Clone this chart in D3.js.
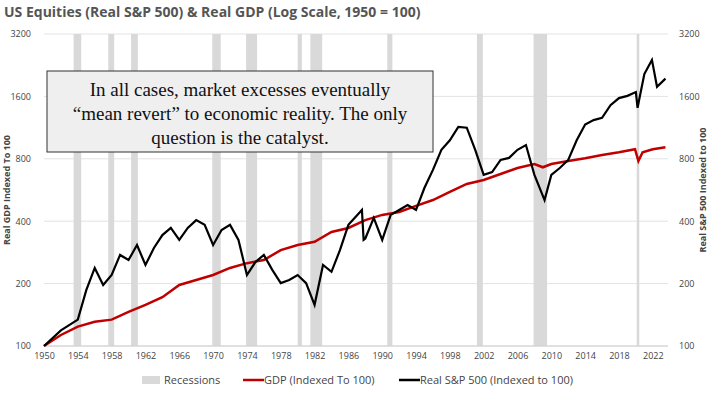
<!DOCTYPE html>
<html><head><meta charset="utf-8">
<script src="https://cdn.jsdelivr.net/npm/d3@7"></script>
<style>
body{margin:0;background:#fff;font-family:"Open Sans",sans-serif;}
.tick text{fill:#444;font-size:9px;font-family:"Liberation Sans Narrow","Open Sans",sans-serif;}
</style></head><body>
<svg id="chart" width="712" height="414"></svg>
<script>
const spYears = [1950,1952,1954,1955,1956,1957,1958,1959,1960,1961,1962,1963,1964,1965,1966,1967,1968,1969,1970,1971,1972,1973,1974,1975,1976,1977,1978,1979,1980,1981,1982,1983,1984,1985,1986,1987.6,1987.8,1988,1989,1990,1991,1992,1993,1994,1995,1996,1997,1998,1999,2000,2001,2002,2003,2004,2005,2006,2007,2008,2009.2,2010,2011,2012,2013,2014,2015,2016,2017,2018,2019,2020,2020.2,2021,2021.9,2022.5,2023.5];
const spValues = [100,119,134,186,238,197,220,275,260,307,246,297,343,371,325,371,405,384,307,363,384,325,220,254,275,233,201,208,220,201,158,246,228,290,384,453,325,330,415,325,429,453,479,453,580,707,884,983,1140,1130,884,669,690,790,808,884,932,669,506,669,722,790,983,1170,1230,1260,1450,1570,1610,1680,1410,2050,2400,1780,1950];
const gdpYears = [1950,1952,1954,1956,1958,1960,1962,1964,1966,1968,1970,1972,1974,1976,1978,1980,1982,1984,1986,1988,1990,1992,1994,1996,1998,2000,2002,2004,2006,2008,2009,2010,2012,2014,2016,2018,2019.9,2020.3,2020.8,2022,2023.5];
const gdpValues = [100,113,124,131,134,146,158,172,197,208,220,238,251,260,290,307,318,355,371,405,429,443,474,506,554,605,632,676,722,755,728,755,780,805,835,860,890,780,860,890,910];
const recessions = [[1953.5,1954.4],[1957.6,1958.3],[1960.3,1961.1],[1969.9,1970.9],[1973.9,1975.2],[1980.0,1980.5],[1981.5,1982.9],[1990.6,1991.2],[2001.2,2001.9],[2007.9,2009.5],[2020.1,2020.4]];
const yTicks = [100,200,400,800,1600,3200];
const xTicks = d3.range(1950,2023,4);

const svg = d3.select('#chart');
const x = d3.scaleLinear().domain([1950,2023.8]).range([44,668]);
const y = d3.scaleLog().base(2).domain([100,3200]).range([346,34]);

// Gridlines
svg.append('g').selectAll('line').data(yTicks).enter().append('line')
    .attr('x1',44).attr('x2',668).attr('y1',d=>y(d)).attr('y2',d=>y(d))
    .attr('stroke','#e3e3e3');

// Recession bars
svg.append('g').selectAll('rect').data(recessions).enter().append('rect')
    .attr('x',d=>x(d[0])).attr('width',d=>Math.max(2,x(d[1])-x(d[0])))
    .attr('y',34).attr('height',312).attr('fill','#d9d9d9');

// Axes
const yl = svg.append('g').attr('transform','translate(34,0)')
    .call(d3.axisLeft(y).tickValues(yTicks).tickFormat(d3.format('d')).tickSize(0));
const yr = svg.append('g').attr('transform','translate(676,0)')
    .call(d3.axisRight(y).tickValues(yTicks).tickFormat(d3.format('d')).tickSize(0));
const xa = svg.append('g').attr('transform','translate(0,350)')
    .call(d3.axisBottom(x).tickValues(xTicks).tickFormat(d3.format('d')).tickSize(0));
[yl,yr,xa].forEach(a=>a.select('.domain').remove());
svg.append('line').attr('x1',44).attr('x2',668).attr('y1',346).attr('y2',346).attr('stroke','#d0d0d0');

// Lines
const line = d3.line().x(d=>x(d[0])).y(d=>y(d[1]));
svg.append('path').datum(gdpYears.map((d,i)=>[d,gdpValues[i]]))
    .attr('d',line).attr('fill','none').attr('stroke','#c00000').attr('stroke-width',2.5);
svg.append('path').datum(spYears.map((d,i)=>[d,spValues[i]]))
    .attr('d',line).attr('fill','none').attr('stroke','#000').attr('stroke-width',2.2);

// Title and axis titles
svg.append('text').attr('x',4).attr('y',17).attr('fill','#555')
    .style('font-size','14px').style('font-weight','bold')
    .text('US Equities (Real S&P 500) & Real GDP (Log Scale, 1950 = 100)');
svg.append('text').attr('transform','translate(10,190) rotate(-90)').attr('text-anchor','middle')
    .attr('fill','#444').style('font-size','9px').style('font-weight','bold').text('Real GDP Indexed To 100');
svg.append('text').attr('transform','translate(706,190) rotate(-90)').attr('text-anchor','middle')
    .attr('fill','#444').style('font-size','9px').style('font-weight','bold').text('Real S&P 500 Indexed to 100');

// Annotation box
svg.append('rect').attr('x',47).attr('y',71).attr('width',386).attr('height',81)
    .attr('fill','#efefef').attr('stroke','#333').attr('stroke-width',1);
const lines = ['In all cases, market excesses eventually','\u201cmean revert\u201d to economic reality. The only','question is the catalyst.'];
svg.append('g').selectAll('text').data(lines).enter().append('text')
    .attr('x',240).attr('y',(d,i)=>96+i*24).attr('text-anchor','middle')
    .style('font-family','"Liberation Serif",serif').style('font-size','19px').attr('fill','#111')
    .text(d=>d);

// Legend
const lg = svg.append('g').attr('transform','translate(0,381)').style('font-size','11px').attr('fill','#444');
lg.append('rect').attr('x',142).attr('y',-5).attr('width',18).attr('height',8).attr('fill','#d9d9d9');
lg.append('text').attr('x',164).attr('y',3).text('Recessions');
lg.append('line').attr('x1',243).attr('x2',264).attr('y1',-1).attr('y2',-1).attr('stroke','#c00000').attr('stroke-width',2.5);
lg.append('text').attr('x',264).attr('y',3).text('GDP (Indexed To 100)');
lg.append('line').attr('x1',399).attr('x2',420).attr('y1',-1).attr('y2',-1).attr('stroke','#000').attr('stroke-width',2.5);
lg.append('text').attr('x',420).attr('y',3).text('Real S&P 500 (Indexed to 100)');
</script></body></html>
